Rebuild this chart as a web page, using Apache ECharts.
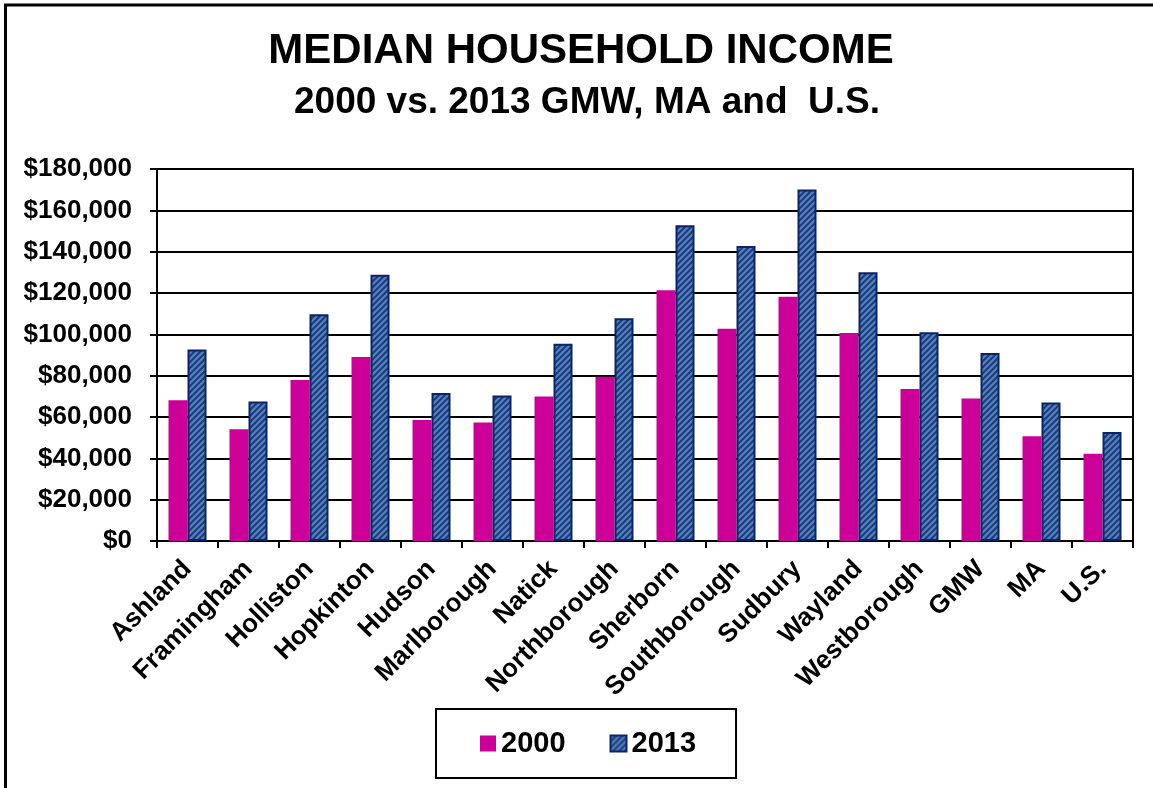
<!DOCTYPE html>
<html>
<head>
<meta charset="utf-8">
<script src="https://cdn.jsdelivr.net/npm/echarts@6/dist/echarts.min.js"></script>
<style>
  html, body { margin: 0; padding: 0; background: #fff; }
  #main { width: 1153px; height: 788px; }
</style>
</head>
<body>
<div id="main"></div>
<script>
// towns / regions on the x axis
var towns = ['Ashland', 'Framingham', 'Holliston', 'Hopkinton', 'Hudson', 'Marlborough',
    'Natick', 'Northborough', 'Sherborn', 'Southborough', 'Sudbury', 'Wayland',
    'Westborough', 'GMW', 'MA', 'U.S.'];
// median household income
var income2000 = [68100, 54100, 77900, 89000, 58500, 57300, 69900, 79500,
    121300, 102700, 118200, 100600, 73500, 69000, 50700, 42200];
var income2013 = [92700, 67500, 109700, 128800, 71600, 70400, 95400, 107800,
    152800, 142800, 170100, 130100, 101000, 91000, 67000, 52800];
var seriesNames = ['2000', '2013'];

var FONT = 'Arial, "Liberation Sans", sans-serif';

//斜线填充图案 (2013)
function makeStripes() {
    var c = document.createElement('canvas');
    c.width = 6;
    c.height = 6;
    var ctx = c.getContext('2d');
    ctx.fillStyle = '#5282c2';
    ctx.fillRect(0, 0, 6, 6);
    ctx.strokeStyle = '#1d3b7a';
    ctx.lineWidth = 2;
    ctx.beginPath();
    ctx.moveTo(-1, 7); ctx.lineTo(7, -1);
    ctx.moveTo(-4, 4); ctx.lineTo(4, -4);
    ctx.moveTo(2, 10); ctx.lineTo(10, 2);
    ctx.stroke();
    return c;
}

var myChart = echarts.init(document.getElementById('main'));
myChart.setOption({
    animation: false,
    graphic: [{ //外框
        type: 'rect',
        shape: { x: 5.5, y: 5, width: 1300, height: 900 },
        style: { fill: 'none', stroke: '#000', lineWidth: 3 }
    }, { //主标题
        type: 'text',
        x: 581,
        y: 30,
        style: {
            text: 'MEDIAN HOUSEHOLD INCOME',
            fontFamily: FONT, fontSize: 42, fontWeight: 'bold', fill: '#000',
            align: 'center', verticalAlign: 'top'
        }
    }, { //副标题
        type: 'text',
        x: 587,
        y: 84,
        style: {
            text: '2000 vs. 2013 GMW, MA and  U.S.',
            fontFamily: FONT, fontSize: 37, fontWeight: 'bold', fill: '#000',
            align: 'center', verticalAlign: 'top'
        }
    }],
    legend: {
        left: 436,
        top: 709,
        padding: [20, 40, 20, 44],
        itemGap: 44,
        itemWidth: 16,
        itemHeight: 16,
        borderColor: '#000',
        borderWidth: 2,
        icon: 'rect',
        textStyle: { fontFamily: FONT, fontSize: 29, fontWeight: 'bold', color: '#000' },
        data: seriesNames
    },
    grid: {
        left: 157,
        right: 20,
        top: 169,
        bottom: 247,
        show: true,
        borderColor: '#000',
        borderWidth: 2
    },
    xAxis: {
        type: 'category',
        data: towns,
        axisLine: { lineStyle: { color: '#000', width: 2 } },
        axisTick: { show: true, length: 7, lineStyle: { color: '#000', width: 2 } },
        axisLabel: {
            rotate: 45,
            margin: 24,
            interval: 0,
            fontFamily: FONT,
            fontSize: 26,
            fontWeight: 'bold',
            color: '#000'
        }
    },
    yAxis: {
        type: 'value',
        min: 0,
        max: 180000,
        interval: 20000,
        axisLine: { show: true, lineStyle: { color: '#000', width: 2 } },
        axisTick: { show: true, length: 7, lineStyle: { color: '#000', width: 2 } },
        splitLine: { lineStyle: { color: '#000', width: 2 } },
        axisLabel: {
            margin: 25,
            fontFamily: FONT,
            fontSize: 26,
            fontWeight: 'bold',
            color: '#000',
            formatter: function (v) {
                return '$' + v.toLocaleString('en-US');
            }
        }
    },
    series: [{
        name: seriesNames[0],
        type: 'bar',
        data: income2000,
        barWidth: 19,
        barGap: '0%',
        itemStyle: { color: '#cc0099' }
    }, {
        name: seriesNames[1],
        type: 'bar',
        data: income2013,
        barWidth: 19,
        itemStyle: {
            color: { image: makeStripes(), repeat: 'repeat' },
            borderColor: '#0b2463',
            borderWidth: 2
        }
    }]
});
</script>
</body>
</html>
